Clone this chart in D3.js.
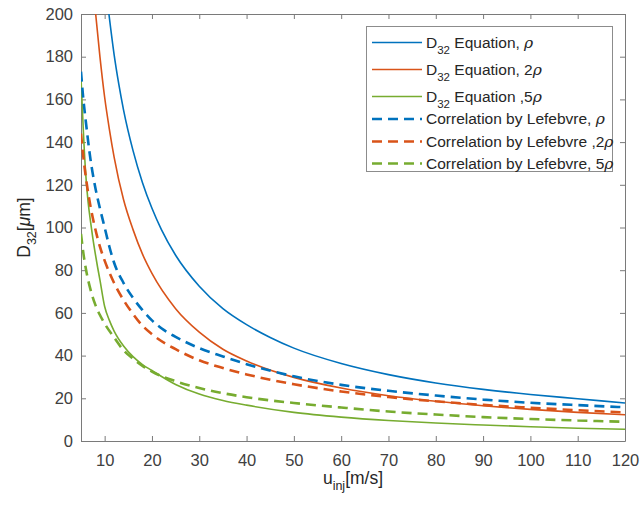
<html>
<head>
<meta charset="UTF-8">
<script src="https://d3js.org/d3.v7.min.js"></script>
<style>
  body { margin: 0; background: #fff; }
  text { font-family: "Liberation Sans", Arial, sans-serif; }
  .axis .domain { stroke: #7a7a7a; stroke-width: 1px; }
  .axis line { stroke: #7a7a7a; }
  .axis text { fill: #404040; font-size: 16.5px; }
  .rho { font-family: "DejaVu Serif", "Liberation Serif", serif; font-style: italic; }
</style>
</head>
<body>
<svg id="chart" width="641" height="506"></svg>
<script>
// values: u_inj [m/s] and D32 [um]
const uEq1 = [10.9, 12, 13, 14, 16, 18, 20, 22, 25, 30, 35, 40, 45, 50, 60, 70, 80, 90, 100, 110, 120];
const dEq1 = [200, 181, 167, 155, 136, 121, 109, 99, 87, 72.5, 62, 54.5, 48.5, 43.5, 36.3, 31.1, 27.2, 24.2, 21.8, 19.8, 17.8];

const uEq2 = [8.1, 9, 10, 11, 12, 14, 16, 18, 20, 25, 30, 35, 40, 50, 60, 70, 80, 90, 100, 110, 120];
const dEq2 = [200, 180, 161, 146, 133, 113, 99, 87.5, 78.5, 62, 51, 43, 37.5, 29.8, 24.8, 21.2, 18.6, 16.5, 14.8, 13.4, 12.3];

const uEq5 = [5, 5.5, 6, 6.5, 7, 7.5, 8, 8.5, 9, 10, 11, 12, 14, 16, 18, 20, 25, 30, 35, 40, 50, 60, 70, 80, 90, 100, 110, 120];
const dEq5 = [170, 145, 125, 112, 103, 95, 88, 81.5, 75.5, 63, 56.5, 51.5, 44.5, 39.5, 35.8, 33, 26.5, 22, 19, 16.8, 13.4, 11.2, 9.6, 8.4, 7.5, 6.7, 6.0, 5.5];

const uCor1 = [5, 5.5, 6, 7, 8, 9, 10, 11, 12, 14, 16, 18, 20, 22, 25, 30, 35, 40, 50, 60, 70, 80, 90, 100, 110, 120];
const dCor1 = [173, 160, 150, 132, 119, 109, 100, 91, 83.5, 74, 67, 61.3, 56.5, 52.8, 48.8, 43.5, 39.6, 36, 30.3, 26.3, 23.5, 21.3, 19.4, 17.9, 16.8, 15.8];

const uCor2 = [5, 5.5, 6, 7, 8, 9, 10, 12, 14, 16, 18, 20, 25, 30, 35, 40, 50, 60, 70, 80, 90, 100, 110, 120];
const dCor2 = [144, 133, 124, 110, 99.5, 91, 84.5, 74, 66, 59.5, 54, 50, 43, 37.8, 34.2, 31.2, 26.6, 23.2, 20.6, 18.6, 16.9, 15.6, 14.4, 13.4];

const uCor5 = [5, 5.5, 6, 7, 8, 9, 10, 12, 14, 16, 18, 20, 25, 30, 35, 40, 50, 60, 70, 80, 90, 100, 110, 120];
const dCor5 = [97, 88, 81, 71, 64, 59, 55, 48.5, 42.5, 38.5, 35.2, 32.5, 28, 24.8, 22.4, 20.5, 17.8, 15.7, 13.8, 12.4, 11.2, 10.3, 9.6, 9.0];

const xTicks = [10, 20, 30, 40, 50, 60, 70, 80, 90, 100, 110, 120];
const yTicks = [0, 20, 40, 60, 80, 100, 120, 140, 160, 180, 200];

// series: label parts [main, subscript, rest, multiplier], colour, dashed
const series = [
  { u: uEq1, d: dEq1, color: '#0072BD', dashed: false, txt: ['D', '32', ' Equation, ', ''] },
  { u: uEq2, d: dEq2, color: '#D95319', dashed: false, txt: ['D', '32', ' Equation, ', '2'] },
  { u: uEq5, d: dEq5, color: '#77AC30', dashed: false, txt: ['D', '32', ' Equation ,', '5'] },
  { u: uCor1, d: dCor1, color: '#0072BD', dashed: true, txt: ['Correlation by Lefebvre, ', '', '', ''] },
  { u: uCor2, d: dCor2, color: '#D95319', dashed: true, txt: ['Correlation by Lefebvre ,', '', '', '2'] },
  { u: uCor5, d: dCor5, color: '#77AC30', dashed: true, txt: ['Correlation by Lefebvre, ', '', '', '5'] }
];

const svg = d3.select('#chart');
const plot = { left: 81, right: 625, top: 14, bottom: 441 };

const x = d3.scaleLinear().domain([5, 120]).range([plot.left, plot.right]);
const y = d3.scaleLinear().domain([0, 200]).range([plot.bottom, plot.top]);

svg.append('clipPath').attr('id', 'clip')
   .append('rect')
   .attr('x', plot.left).attr('y', plot.top)
   .attr('width', plot.right - plot.left).attr('height', plot.bottom - plot.top);

//axes on all four sides, ticks pointing inward
svg.append('g').attr('class', 'axis')
   .attr('transform', 'translate(0,' + plot.bottom + ')')
   .call(d3.axisBottom(x).tickValues(xTicks).tickSizeInner(-5).tickSizeOuter(0).tickPadding(13.5));
svg.append('g').attr('class', 'axis')
   .attr('transform', 'translate(0,' + plot.top + ')')
   .call(d3.axisTop(x).tickValues(xTicks).tickSizeInner(-5).tickSizeOuter(0).tickFormat(''));
svg.append('g').attr('class', 'axis')
   .attr('transform', 'translate(' + plot.left + ',0)')
   .call(d3.axisLeft(y).tickValues(yTicks).tickSizeInner(-5).tickSizeOuter(0).tickPadding(8));
svg.append('g').attr('class', 'axis')
   .attr('transform', 'translate(' + plot.right + ',0)')
   .call(d3.axisRight(y).tickValues(yTicks).tickSizeInner(-5).tickSizeOuter(0).tickFormat(''));

//curves
const line = d3.line()
  .x(p => x(p[0]))
  .y(p => y(p[1]))
  .curve(d3.curveMonotoneX);

svg.append('g').attr('clip-path', 'url(#clip)')
   .selectAll('path.curve').data(series)
   .join('path')
   .attr('class', 'curve')
   .attr('fill', 'none')
   .attr('stroke', s => s.color)
   .attr('stroke-width', s => s.dashed ? 2.6 : 1.6)
   .attr('stroke-dasharray', s => s.dashed ? '10,6' : null)
   .attr('d', s => line(s.u.map((u, i) => [u, s.d[i]])));

//axis labels
const xl = svg.append('text')
  .attr('x', (plot.left + plot.right) / 2)
  .attr('y', 484)
  .attr('text-anchor', 'middle')
  .attr('fill', '#262626')
  .style('font-size', '17.5px');
xl.append('tspan').text('u');
xl.append('tspan').attr('dy', 6).style('font-size', '12.5px').text('inj');
xl.append('tspan').attr('dy', -6).text('[m/s]');

const yl = svg.append('text')
  .attr('transform', 'translate(30,' + (plot.top + plot.bottom) / 2 + ') rotate(-90)')
  .attr('text-anchor', 'middle')
  .attr('fill', '#262626')
  .style('font-size', '17.5px');
yl.append('tspan').text('D');
yl.append('tspan').attr('dy', 6).style('font-size', '12.5px').text('32');
yl.append('tspan').attr('dy', -6).text('[');
yl.append('tspan').style('font-style', 'italic').text('\u03bc');
yl.append('tspan').text('m]');

//legend
const legend = svg.append('g');
legend.append('rect')
  .attr('x', 366.5).attr('y', 26.5)
  .attr('width', 246).attr('height', 145)
  .attr('fill', '#fff').attr('stroke', '#8c8c8c');

const rowY = [42.5, 69.5, 96.5, 119, 141.5, 163.5];

const rows = legend.selectAll('g.row').data(series)
  .join('g').attr('class', 'row')
  .attr('transform', (s, i) => 'translate(0,' + rowY[i] + ')');

rows.append('line')
  .attr('x1', 372).attr('x2', 422)
  .attr('stroke', s => s.color)
  .attr('stroke-width', s => s.dashed ? 2.6 : 1.6)
  .attr('stroke-dasharray', s => s.dashed ? '10,6' : null);

rows.each(function(s) {
  const t = d3.select(this).append('text')
    .attr('x', 426).attr('y', 5)
    .attr('fill', '#262626')
    .style('font-size', '15.5px');
  t.append('tspan').text(s.txt[0]);
  if (s.txt[1]) {
    t.append('tspan').attr('dy', 6).style('font-size', '11.5px').text(s.txt[1]);
    t.append('tspan').attr('dy', -6).text(s.txt[2]);
  }
  if (s.txt[3]) t.append('tspan').text(s.txt[3]);
  t.append('tspan').attr('class', 'rho').text('\u03c1');
});
</script>
</body>
</html>
